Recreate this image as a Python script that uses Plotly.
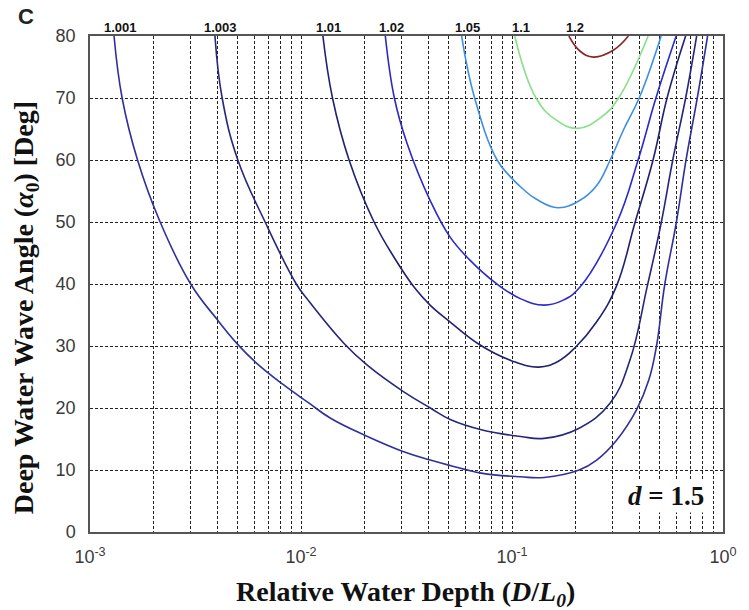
import numpy as np
import plotly.graph_objects as go

# ---- data ----
levels = ["1.001", "1.003", "1.01", "1.02", "1.05", "1.1", "1.2"]

x_1001 = [0.0013, 0.00142, 0.00168, 0.00215, 0.003, 0.004, 0.005, 0.00617, 0.00822,
          0.0108, 0.01387, 0.0204, 0.0307, 0.041, 0.0513, 0.0715, 0.110, 0.142, 0.208, 0.252, 0.313,
          0.389, 0.445, 0.484, 0.53, 0.60, 0.668, 0.757, 0.845]
y_1001 = [80, 70, 60, 50, 40, 34.3, 30.3, 27.2, 23.8,
          20.9, 18.3, 15.5, 12.95, 11.6, 10.7, 9.5, 8.9, 8.8, 10.0, 11.6, 14.8,
          19.7, 24.5, 30.0, 40.0, 49.8, 60, 70.2, 80]

x_1003 = [0.00391, 0.00423, 0.00502, 0.00676, 0.0095, 0.0108, 0.016, 0.0206, 0.0307, 0.041,
          0.0513, 0.0715, 0.110, 0.142, 0.207, 0.292, 0.362, 0.438, 0.509, 0.578, 0.667, 0.750]
y_1003 = [80, 70, 60, 50, 40, 37.4, 30.4, 26.9, 22.6, 20.0,
          18.1, 16.5, 15.4, 15.1, 16.7, 20.8, 27.7, 39.7, 49.8, 60, 70.2, 80]

x_101 = [0.0127, 0.0141, 0.0169, 0.0222, 0.0275, 0.0347, 0.0409, 0.0508, 0.0703, 0.100, 0.134,
         0.165, 0.200, 0.252, 0.313, 0.382, 0.466, 0.545, 0.665]
y_101 = [80, 70, 60, 50, 44.4, 39.3, 36.6, 33.9, 30.2, 27.6, 26.6,
         27.5, 29.8, 33.9, 39.7, 49.8, 60, 70.2, 80]

x_102 = [0.0251, 0.0277, 0.0318, 0.0409, 0.0508, 0.063, 0.0841, 0.110, 0.142, 0.175, 0.210,
         0.313, 0.396, 0.483, 0.60]
y_102 = [80, 70, 62.7, 53.5, 47.6, 43.9, 40.1, 37.6, 36.6, 37.4, 39.5,
         49.8, 60, 70.2, 80]

x_105 = [0.0577, 0.0665, 0.0850, 0.0989, 0.112, 0.130, 0.165, 0.210, 0.252, 0.292, 0.337, 0.403, 0.509]
y_105 = [80, 70, 60, 57.2, 55.4, 53.7, 52.3, 53.5, 55.9, 60, 64.8, 70.2, 80]

x_11 = [0.103, 0.130, 0.161, 0.205, 0.267, 0.320, 0.442]
y_11 = [80, 70, 66.5, 65.1, 67.0, 70, 80]

x_12 = [0.186, 0.211, 0.243, 0.302, 0.356]
y_12 = [80, 77.5, 76.6, 77.7, 80]

curves_x = [x_1001, x_1003, x_101, x_102, x_105, x_11, x_12]
curves_y = [y_1001, y_1003, y_101, y_102, y_105, y_11, y_12]
colors = ["#30309c", "#26267c", "#212172", "#2a2ac8", "#3f8fe0", "#88e088", "#8b2424"]

x_major = [1e-3, 1e-2, 1e-1, 1]
x_major_text = ["10<sup>-3</sup>", "10<sup>-2</sup>", "10<sup>-1</sup>", "10<sup>0</sup>"]
x_minor = [m * d for d in (1e-3, 1e-2, 1e-1) for m in range(2, 10)]
y_ticks = [0, 10, 20, 30, 40, 50, 60, 70, 80]

grid_col = "#222222"
grid_dash = "3px,2px"

fig = go.Figure()
for xs, ys, c, lv in zip(curves_x, curves_y, colors, levels):
    fig.add_trace(go.Scatter(x=xs, y=ys, mode="lines", name=lv,
                             line=dict(color=c, width=1.6, shape="spline", smoothing=1.2),
                             showlegend=False))

annotations = []
for xs, lv in zip(curves_x, levels):
    annotations.append(dict(x=np.log10(xs[0]), y=1, xref="x", yref="paper",
                            text="<b>%s</b>" % lv, showarrow=False, xanchor="center",
                            yanchor="bottom", xshift=6, yshift=-1,
                            font=dict(family="Liberation Sans", size=13, color="#111")))

annotations += [
    dict(x=0.498, y=-0.123, xref="paper", yref="paper", showarrow=False,
         text="<b>Relative Water Depth (<i>D</i>/<i>L<sub>0</sub></i>)</b>",
         font=dict(family="Liberation Serif", size=28, color="#111"),
         xanchor="center", yanchor="middle"),
    dict(x=-0.102, y=0.452, xref="paper", yref="paper", showarrow=False, textangle=-90,
         text="<b>Deep Water Wave Angle (<i>α</i><sub>0</sub>) [Deg]</b>",
         font=dict(family="Liberation Serif", size=28, color="#111"),
         xanchor="center", yanchor="middle"),
    dict(x=0.910, y=0.0726, xref="paper", yref="paper", showarrow=False,
         text="<b><i>d</i> = 1.5</b>", bgcolor="white",
         font=dict(family="Liberation Serif", size=27, color="#111"),
         xanchor="center", yanchor="middle"),
    dict(x=-0.101, y=1.040, xref="paper", yref="paper", showarrow=False,
         text="<b>C</b>", font=dict(family="Liberation Sans", size=22, color="#222"),
         xanchor="center", yanchor="middle"),
]

fig.update_layout(
    width=749, height=610, autosize=False,
    margin=dict(l=90, r=16, t=36, b=78),
    paper_bgcolor="white", plot_bgcolor="white",
    annotations=annotations,
    xaxis=dict(type="log", range=[-3, 0], tickmode="array", tickvals=x_major, ticktext=x_major_text,
               showgrid=True, gridcolor=grid_col, griddash=grid_dash, gridwidth=1,
               minor=dict(tickmode="array", tickvals=x_minor, showgrid=True, gridcolor=grid_col,
                          griddash=grid_dash, gridwidth=1),
               showline=True, mirror=True, linecolor="#555", linewidth=1.5,
               ticks="", ticklabelstandoff=8, zeroline=False,
               tickfont=dict(family="Liberation Sans", size=18, color="#3a3a3a")),
    yaxis=dict(range=[0, 80], tickmode="array", tickvals=y_ticks,
               showgrid=True, gridcolor=grid_col, griddash=grid_dash, gridwidth=1,
               showline=True, mirror=True, linecolor="#555", linewidth=1.5,
               ticks="", ticklabelstandoff=9, zeroline=False,
               tickfont=dict(family="Liberation Sans", size=18, color="#3a3a3a")),
)

fig.write_html("out.html")
